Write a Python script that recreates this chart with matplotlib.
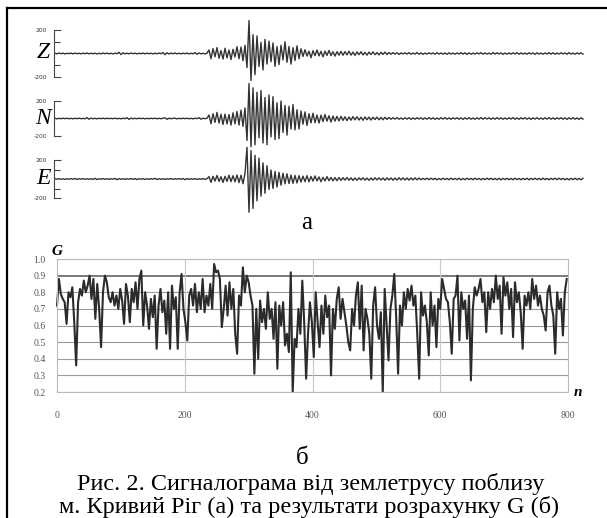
import numpy as np
import matplotlib
matplotlib.use('Agg')
import matplotlib.pyplot as plt
from matplotlib.lines import Line2D

# ---- data ----
# seismogram amplitudes (counts), one sample every 2 px of the trace
z_amp = [2,-3,4,-2,3,-4,2,-1,3,-3, 4,-2,2,-3,3,-2,4,-3,2,-2, 3,-4,2,-3,4,-2,3,-3,2,-4,
         3,-2,10,-9,6,-3,2,-3,4,-2, 3,-3,2,-2,4,-3,3,-2,2,-4, 3,-3,4,-2,8,-10,6,-4,3,-2,
         4,-3,2,-3,3,-2,4,-4,2,-3, 8,-7,5,-3,2,-4,3,
         30,-45,42,-28,50,-40,25,-48,45,-38,30,-52,36,-30,58,-45,55,-62,70,
         -120,280,-230,160,-180,
         150,-110,95,-140,120,-90,105,-70,90,-110,60,-95,70,-55,100,-75,60,-90,50,-60,65,-45,
         40,-25,32,-22,20,-36,24,-18,30,-20,18,-28,20,-16,26,-18,15,-22,16,-14,
         18,-15,16,-12,20,-14,12,-16,14,-10, 15,-12,10,-14,12,-9,14,-10,8,-12, 10,-8,12,-9,8,
         -6,7,-5,6,-8,5,-4,6,-5,7, -6,4,-5,8,-6,5,-7,4,-5,6, -4,5,-6,7,-5,4,-6,5,-7,6,
         -5,4,-6,5,-4,7,-5,6,-8,5, -6,4,-5,6,-4,7,-6,5,-5,4, -6,8,-5,6,-4,5,-7,4,-6,5,
         -5,6,-4,7,-6,5,-5,4,-6,6, -4,5,-7,6,-5,4,-6,5,-4,7, -5,6,-6,4,-5,6,-4,5,-6,7,
         -5,4,-6,5,-4,6,-5]
n_amp = [3,-4,2,-3,4,-2,3,-3,2,-4, 3,-2,4,-3,2,-3,10,-8,4,-3, 2,-4,3,-2,4,-3,3,-2,2,-3,
         4,-3,2,-4,3,-2,9,-10,5,-3, 2,-3,4,-2,3,-4,2,-3,3,-2, 4,-3,2,-3,3,8,-9,4,-3,2,
         3,-4,2,-3,4,-2,3,-3,2,-4, 3,-2,10,-8,4,-3,3,
         40,-60,55,-45,70,-52,48,-68,50,-62,45,-75,65,-60,80,-75,95,-90,120,
         -250,400,-323,350,-300,
         300,-220,320,-280,240,-300,270,-210,250,-240,180,-230,200,-160,150,-190,140,-120,160,-130,100,-120,
         85,-65,75,-80,55,-50,60,-48,40,-52,38,-35,45,-30,32,-40,28,-30,25,-28,
         25,-22,20,-24,18,-20,22,-16,20,-18, 15,-20,18,-14,16,-18,14,-12,16,-14, 12,-15,14,-10,12,
         -8,9,-7,10,-8,6,-9,8,-7,9, -10,7,-8,9,-6,8,-9,7,-8,10, -7,8,-9,6,-8,9,-7,10,-8,7,
         -9,8,-6,9,-8,7,-10,8,-7,9, -8,6,-9,8,-7,10,-8,9,-6,8, -9,7,-8,10,-7,8,-9,6,-8,9,
         -7,10,-8,7,-9,8,-6,9,-8,7, -10,8,-7,9,-8,6,-9,8,-7,10, -8,7,-9,8,-6,9,-8,7,-10,8,
         -7,9,-8,6,-9,8,-7]
e_amp = [3,-2,4,-3,2,-4,3,-2,4,-3, 6,-5,3,-2,4,-3,2,-3,3,-4, 7,-6,3,-2,4,-3,2,-3,3,-2,
         6,-7,4,-3,2,-3,3,-2,4,-4, 5,-6,3,-2,3,-4,2,-3,3,-2, 7,-5,3,-3,2,-4,3,-2,4,-3,
         3,-2,4,-3,6,-7,4,-3,2,-3, 3,-4,2,-3,5,-4,3,
         25,-35,28,-22,38,-26,24,-36,28,-25,40,-28,35,-30,42,-38,40,-50,60,
         333,-350,300,-310,250,
         -230,220,-180,170,-150,140,-110,95,-100,80,-85,70,-65,60,-50,55,-48,42,-46,38,-42,35,
         -32,30,-28,35,-30,26,-22,32,-20,22,-28,18,-20,25,-18,16,-20,15,-18,16,
         -15,14,-12,16,-13,12,-15,11,-14,12, -10,13,-12,10,-14,11,-12,13,-10,12,
         -11,10,-13,12,-10,11,-12,10,-11,13, -10,12,-11,10,-12,11,-10,12,-9,10,
         -8,7,-6,9,-7,8,-6,7,-9,6, -7,8,-6,7,-8,9,-6,7,-7,8, -9,6,-7,8,-6,7,-8,9,-6,7,
         -8,6,-7,9,-6,8,-7,6,-8,7, -9,7,-6,8,-7,6,-8,9,-7,6, -8,7,-6,8,-9,7,-6,8,-7,6,
         -8,9,-7,6,-8,7,-6,9,-7,8, -6,7,-8,6,-9,7,-6,8,-7,6, -8,7]
trace_names = ['Z', 'N', 'E']
scale_labels = ['-200', '200']

# G(n), one value every 3 samples
g_vals = [0.72,0.88,0.79,0.76,0.74,0.61,0.80,0.77,0.83,0.62,
          0.36,0.74,0.82,0.78,0.87,0.80,0.84,0.90,0.76,0.88,
          0.64,0.85,0.70,0.47,0.80,0.90,0.86,0.77,0.74,0.80,
          0.72,0.78,0.70,0.82,0.75,0.61,0.85,0.78,0.62,0.82,
          0.74,0.86,0.70,0.88,0.93,0.60,0.80,0.72,0.58,0.76,
          0.65,0.78,0.46,0.72,0.82,0.68,0.75,0.55,0.80,0.46,
          0.84,0.70,0.77,0.46,0.80,0.91,0.70,0.62,0.51,0.78,
          0.82,0.72,0.85,0.68,0.80,0.70,0.88,0.68,0.78,0.72,
          0.85,0.70,0.97,0.92,0.93,0.88,0.59,0.70,0.84,0.66,
          0.86,0.70,0.82,0.55,0.43,0.78,0.72,0.95,0.80,0.90,
          0.86,0.78,0.72,0.31,0.70,0.40,0.75,0.62,0.70,0.58,
          0.80,0.64,0.70,0.52,0.74,0.34,0.72,0.60,0.74,0.48,
          0.55,0.44,0.92,0.20,0.52,0.47,0.70,0.55,0.87,0.62,
          0.28,0.55,0.74,0.62,0.41,0.80,0.62,0.47,0.72,0.55,
          0.78,0.65,0.72,0.30,0.70,0.58,0.76,0.83,0.64,0.76,
          0.68,0.60,0.50,0.45,0.70,0.60,0.78,0.86,0.58,0.84,
          0.45,0.70,0.64,0.55,0.28,0.72,0.83,0.60,0.52,0.68,
          0.20,0.82,0.60,0.39,0.70,0.78,0.91,0.65,0.31,0.72,
          0.60,0.80,0.70,0.82,0.75,0.84,0.72,0.78,0.55,0.28,
          0.80,0.66,0.72,0.62,0.42,0.80,0.60,0.72,0.47,0.76,
          0.70,0.88,0.82,0.76,0.74,0.62,0.43,0.76,0.78,0.90,
          0.51,0.80,0.70,0.75,0.52,0.78,0.27,0.70,0.83,0.78,
          0.82,0.88,0.74,0.80,0.56,0.80,0.70,0.82,0.74,0.90,
          0.76,0.84,0.55,0.89,0.78,0.86,0.70,0.82,0.53,0.86,
          0.74,0.80,0.68,0.46,0.78,0.72,0.80,0.70,0.88,0.76,
          0.84,0.72,0.78,0.70,0.66,0.57,0.80,0.84,0.72,0.66,
          0.43,0.80,0.70,0.76,0.54,0.80,0.88]
g_step = 3
g_yticks = [0.2, 0.3, 0.4, 0.5, 0.6, 0.7, 0.8, 0.9, 1.0]
g_xticks = [0, 200, 400, 600, 800]

caption_1 = 'Рис. 2. Сигналограма від землетрусу поблизу'
caption_2 = 'м. Кривий Ріг (а) та результати розрахунку G (б)'

# ---- figure ----
W, H = 607, 518
fig = plt.figure(figsize=(W / 100, H / 100), dpi=100)
fig.patch.set_facecolor('white')


def box(x0, y0, x1, y1):
    # pixel box (top-left origin) -> figure fraction rect
    return [x0 / W, 1 - y1 / H, (x1 - x0) / W, (y1 - y0) / H]


def fx(x):
    return x / W


def fy(y):
    return 1 - y / H


# seismograms: (band top, band bottom, y of +200, y of -200, label y)
seis = [(12, 96, 30, 77, 53), (78, 152, 101, 136, 118), (140, 218, 160, 198, 178)]
minor = [True, False, True]
for amp, name, (t, b, p200, m200, ly), mn in zip([z_amp, n_amp, e_amp], trace_names, seis, minor):
    ax = fig.add_axes(box(54, t, 584, b))
    ax.patch.set_alpha(0)
    cpp = 400.0 / (m200 - p200)
    ax.set_ylim(-200 - (b - m200) * cpp, 200 + (p200 - t) * cpp)
    ax.set_xlim(-0.5, 264.5)
    idx = np.arange(len(amp))
    ax.plot(idx, amp, color='#333333', lw=1.0, clip_on=False)
    for s in ['top', 'right', 'bottom']:
        ax.spines[s].set_visible(False)
    ax.spines['left'].set_bounds(-200, 200)
    ax.spines['left'].set_color('#444444')
    ax.spines['left'].set_linewidth(0.8)
    ax.set_xticks([])
    ax.set_yticks([-200, 200])
    ax.set_yticklabels(scale_labels, fontsize=4.3, color='#333333')
    ax.tick_params(axis='y', direction='in', length=5, width=0.8, color='#444444', pad=5)
    if mn:
        ax.set_yticks([-100, 100], minor=True)
        ax.tick_params(axis='y', which='minor', direction='in', length=4, width=0.8, color='#444444')
    fig.text(fx(43), fy(ly), name, family='Liberation Serif', style='italic',
             fontsize=17, ha='center', va='center')

# G panel
axg = fig.add_axes(box(57, 259, 568, 392))
n = np.arange(len(g_vals)) * g_step
axg.plot(n, g_vals, color='#2b2b2b', lw=1.5, clip_on=False)
axg.set_xlim(0, 800)
axg.set_ylim(0.2, 1.0)
axg.set_xticks(g_xticks)
axg.set_yticks(g_yticks)
axg.set_yticklabels(['%.1f' % v for v in g_yticks])
for lab in axg.get_xticklabels() + axg.get_yticklabels():
    lab.set_family('Liberation Serif')
    lab.set_fontsize(7)
    lab.set_color('#555555')
axg.tick_params(axis='both', length=0)
axg.tick_params(axis='y', pad=8)
axg.tick_params(axis='x', pad=14)
for v in g_yticks:
    if v == 0.9:
        axg.axhline(v, color='#555555', lw=1.1, zorder=0)
    else:
        axg.axhline(v, color='#9a9a9a', lw=0.8, zorder=0)
for v in g_xticks[1:-1]:
    axg.axvline(v, color='#c8c8c8', lw=0.8, zorder=0)
for s in axg.spines.values():
    s.set_color('#bbbbbb')
    s.set_linewidth(0.8)
fig.text(fx(57), fy(255), 'G', family='Liberation Serif', style='italic', weight='bold',
         fontsize=11, ha='center', va='baseline')
fig.text(fx(578), fy(396), 'n', family='Liberation Serif', style='italic', weight='bold',
         fontsize=11, ha='center', va='baseline')

# panel letters and caption
fig.text(fx(307), fy(229), 'а', family='Liberation Serif', fontsize=18, ha='center', va='baseline')
fig.text(fx(302), fy(464), 'б', family='Liberation Serif', fontsize=18, ha='center', va='baseline')
fig.text(fx(311), fy(490), caption_1, family='Liberation Serif', fontsize=17.5, ha='center', va='baseline')
fig.text(fx(309), fy(513), caption_2, family='Liberation Serif', fontsize=17.5, ha='center', va='baseline')

# frame (left and top edges)
fig.add_artist(Line2D([fx(7), fx(7)], [fy(8), 0], color='black', lw=1.6))
fig.add_artist(Line2D([fx(7), 1], [fy(8), fy(8)], color='black', lw=1.6))

fig.savefig('out.png', dpi=100)
